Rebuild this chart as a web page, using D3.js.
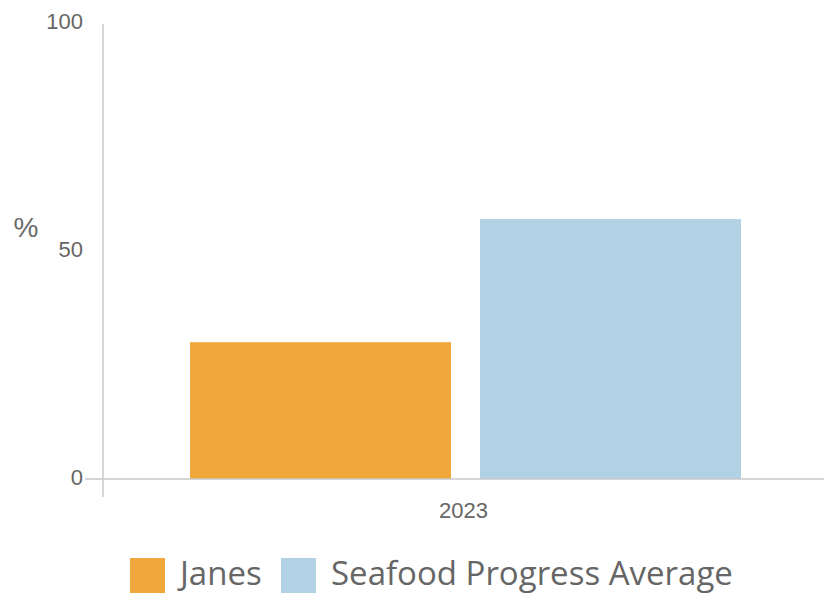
<!DOCTYPE html>
<html>
<head>
<meta charset="utf-8">
<script src="https://cdn.jsdelivr.net/npm/d3@7"></script>
<style>
  body { margin: 0; background: #fff; }
  svg { display: block; }
</style>
</head>
<body>
<svg id="chart" width="824" height="602"></svg>
<script>
"use strict";

// data
var categories = ["2023"];
var seriesNames = ["Janes", "Seafood Progress Average"];
var seriesValues = [30, 57];
var seriesColors = ["#f0a73b", "#b3d1e5"];
var yTicks = [0, 50, 100];

var svg = d3.select("#chart");
var margin = { top: 23, right: 0, bottom: 123, left: 103 };
var width = 824 - margin.left - margin.right,
    height = 602 - margin.top - margin.bottom;

var g = svg.append("g")
    .attr("transform", "translate(" + margin.left + "," + margin.top + ")");

var x = d3.scaleBand()
    .domain(categories)
    .range([0, width]);

var x1 = d3.scaleBand()
    .domain(seriesNames)
    .range([87, 638])
    .paddingInner(0.1);

var y = d3.scaleLinear()
    .domain([0, 100])
    .range([height, 0]);

// bars
categories.forEach(function (cat) {
    g.selectAll(".bar")
        .data(seriesValues)
        .enter().append("rect")
        .attr("class", "bar")
        .attr("x", function (d, i) { return x(cat) + x1(seriesNames[i]); })
        .attr("width", x1.bandwidth())
        .attr("y", function (d) { return y(d); })
        .attr("height", function (d) { return height - y(d); })
        .attr("fill", function (d, i) { return seriesColors[i]; });
});

// y axis (labels only, no tick marks)
var yAxis = g.append("g")
    .call(d3.axisLeft(y).tickValues(yTicks).tickSize(0).tickPadding(20));
yAxis.select(".domain").remove();
yAxis.selectAll(".tick line").remove();
yAxis.selectAll(".tick text")
    .attr("fill", "#666")
    .style("font-family", "'Liberation Sans', Arial, sans-serif")
    .style("font-size", "22px")
    .attr("y", -1.5);

// vertical axis line (extends below baseline)
g.append("line")
    .attr("x1", 0).attr("x2", 0)
    .attr("y1", 1).attr("y2", height + 18)
    .attr("stroke", "#c8c8c8").attr("stroke-width", 1.5);

// x axis
var xAxis = g.append("g")
    .attr("transform", "translate(0," + height + ")")
    .call(d3.axisBottom(x).tickSize(0).tickPadding(23));
xAxis.select(".domain").remove();
xAxis.selectAll(".tick text")
    .attr("fill", "#666")
    .style("font-family", "'Liberation Sans', Arial, sans-serif")
    .style("font-size", "22px");

// baseline extends left of the y axis
g.append("line")
    .attr("x1", -18).attr("x2", width)
    .attr("y1", height).attr("y2", height)
    .attr("stroke", "#c8c8c8").attr("stroke-width", 1.5);

// y axis unit
svg.append("text")
    .attr("x", 26).attr("y", 237)
    .attr("text-anchor", "middle")
    .attr("fill", "#6a6a6a")
    .style("font-family", "'Liberation Sans', Arial, sans-serif")
    .style("font-size", "28px")
    .text("%");

// legend
var legend = svg.append("g").attr("transform", "translate(130,558)");
var legendX = [0, 151];
seriesNames.forEach(function (name, i) {
    var item = legend.append("g").attr("transform", "translate(" + legendX[i] + ",0)");
    item.append("rect")
        .attr("width", 35).attr("height", 35)
        .attr("fill", seriesColors[i]);
    item.append("text")
        .attr("x", 50).attr("y", 27)
        .attr("fill", "#666")
        .style("font-family", "'Open Sans', sans-serif")
        .style("font-size", "33px")
        .text(name);
});
</script>
</body>
</html>
